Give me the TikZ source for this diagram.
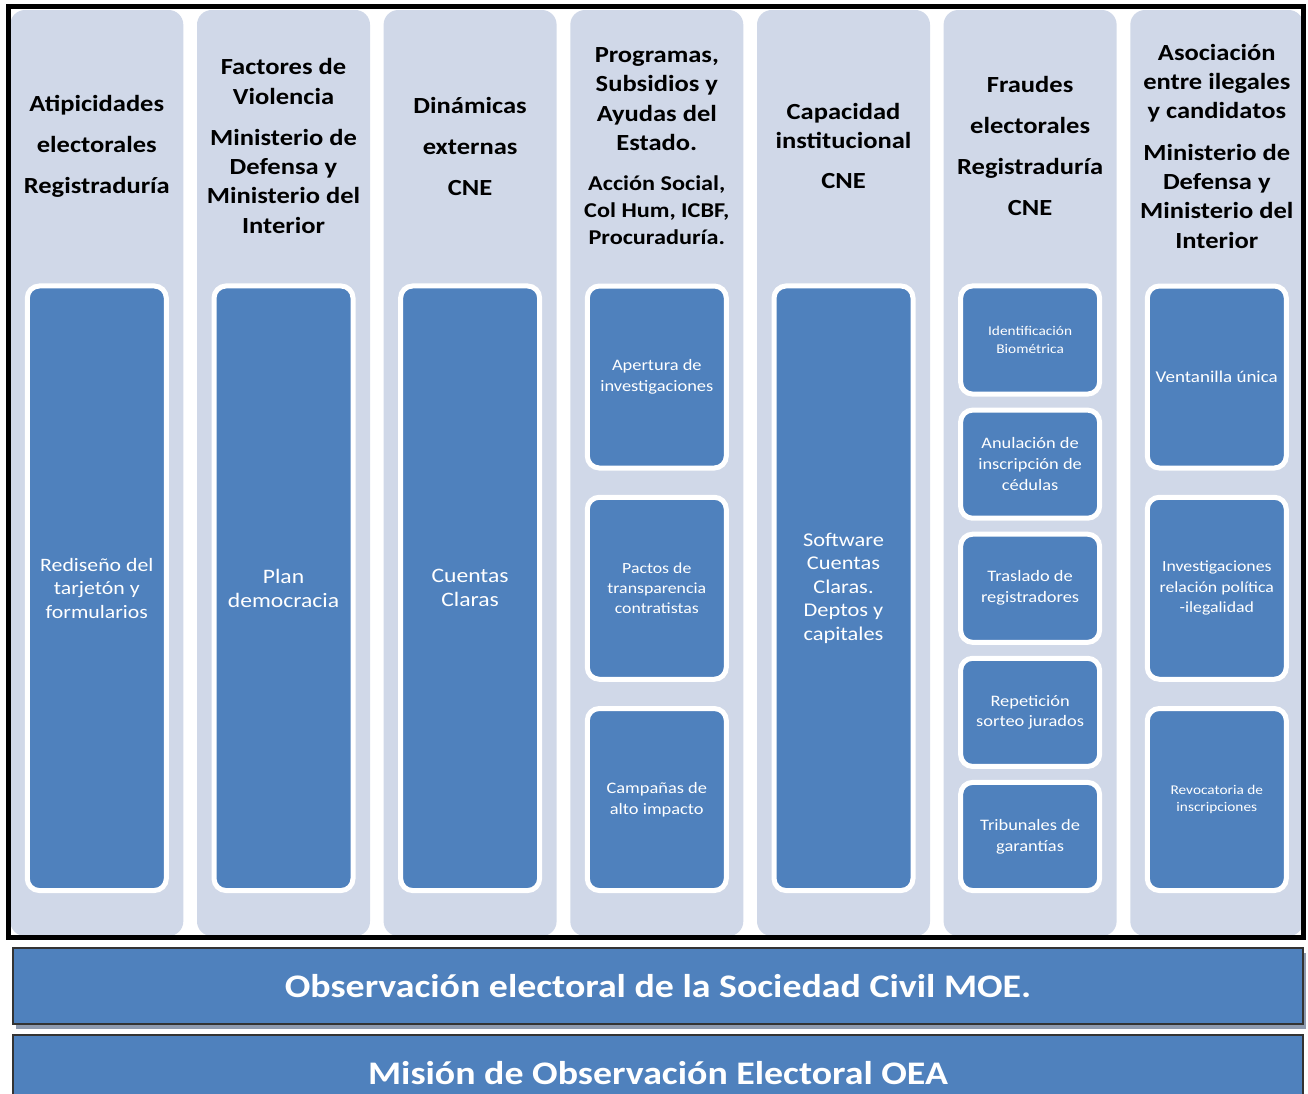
\documentclass[tikz,border=0pt]{standalone}
\usepackage{fontspec}
\setmainfont{Carlito}[FakeStretch=1.15]
\usetikzlibrary{shadows}
\definecolor{colbg}{HTML}{D0D8E8}
\definecolor{itemblue}{HTML}{4F81BD}
\definecolor{shadowgray}{HTML}{8E9AAE}
\newcommand{\setfs}[2]{\fontsize{#1}{#2}\selectfont}
\newcommand{\smallhd}{\setfs{15.8}{20}}
\tikzset{
  column/.style={fill=colbg, rounded corners=11pt},
  header/.style={align=center, font=\bfseries\setfs{17.3}{22}, text=black},
  item/.style={draw=white, line width=3.75pt, fill=itemblue, rounded corners=9pt,
    text=white, align=center, minimum width=104.25pt, inner sep=2pt},
  tall/.style={item, minimum height=453.4pt},
  mid/.style={item, minimum height=136.5pt},
  small/.style={item, minimum height=81.1pt},
  bar/.style={fill=itemblue, draw=black!80, line width=0.8pt, text=white,
    minimum width=967.5pt, minimum height=57pt, font=\bfseries\setfs{24.7}{30}}
}
\begin{document}
\begin{tikzpicture}[x=0.75pt, y=-0.75pt]
\useasboundingbox (0,0) rectangle (1308,1093);
\clip (0,0) rectangle (1308,1093);
%% columns
\fill[column] (10.3,10) rectangle (183.3,936);
\fill[column] (197,10) rectangle (370,936);
\fill[column] (383.6,10) rectangle (556.6,936);
\fill[column] (570.3,10) rectangle (743.3,936);
\fill[column] (757,10) rectangle (930,936);
\fill[column] (943.6,10) rectangle (1116.6,936);
\fill[column] (1130.3,10) rectangle (1303.3,936);
%% headers
\node[header] (atip) at (96.8,146) {Atipicidades\\[8.75pt]electorales\\[8.75pt]Registraduría};
\node[header] (viol) at (283.5,146) {Factores de\\Violencia\\[8.75pt]Ministerio de\\Defensa y\\Ministerio del\\Interior};
\node[header] (dinam) at (470.1,146) {Dinámicas\\[8.75pt]externas\\[8.75pt]CNE};
\node[header] (prog) at (656.8,146) {Programas,\\Subsidios y\\Ayudas del\\Estado.\\[8pt]\smallhd Acción Social,\\[-1.9pt]\smallhd Col Hum, ICBF,\\[-1.9pt]\smallhd Procuraduría.};
\node[header] (capac) at (843.5,146) {Capacidad\\institucional\\[8pt]CNE};
\node[header] (fraud) at (1030.1,146) {Fraudes\\[8.75pt]electorales\\[8.75pt]Registraduría\\[8.75pt]CNE};
\node[header] (asoc) at (1216.8,146) {Asociación\\entre ilegales\\y candidatos\\[9pt]Ministerio de\\Defensa y\\Ministerio del\\Interior};
%% items
\node[tall, font=\setfs{14.2}{17.6}] (redis) at (96.8,588.25) {Rediseño del\\tarjetón y\\formularios};
\node[tall, font=\setfs{15.4}{18}] (plan) at (283.5,588.25) {Plan\\democracia};
\node[tall, font=\setfs{15.4}{18}] (cuentas) at (470.1,588.25) {Cuentas\\Claras};
\node[mid, font=\setfs{12}{15.5}] (apert) at (656.8,377) {Apertura de\\investigaciones};
\node[mid, font=\setfs{11.6}{15.3}] (pactos) at (656.8,588.25) {Pactos de\\transparencia\\contratistas};
\node[mid, font=\setfs{12}{15.5}] (campan) at (656.8,799.5) {Campañas de\\alto impacto};
\node[tall, font=\setfs{14.6}{17.6}] (softw) at (843.5,588.25) {Software\\Cuentas\\Claras.\\Deptos y\\capitales};
\node[small, font=\setfs{10}{13.5}] (ident) at (1030.1,340) {Identificación\\Biométrica};
\node[small, font=\setfs{12}{15.7}] (anul) at (1030.1,464.15) {Anulación de\\inscripción de\\cédulas};
\node[small, font=\setfs{12}{15.7}] (trasl) at (1030.1,588.25) {Traslado de\\registradores};
\node[small, font=\setfs{12}{15.7}] (repet) at (1030.1,712.35) {Repetición\\sorteo jurados};
\node[small, font=\setfs{12}{15.7}] (tribun) at (1030.1,836.45) {Tribunales de\\garantías};
\node[mid, font=\setfs{12.4}{15.5}] (ventan) at (1216.8,377) {Ventanilla única};
\node[mid, font=\setfs{11.6}{15.3}] (invest) at (1216.8,588.25) {Investigaciones\\relación política\\-ilegalidad};
\node[mid, font=\setfs{10}{12.8}] (revoc) at (1216.8,799.5) {Revocatoria de\\inscripciones};
%% frame
\draw[line width=3.75pt] (8.5,6.5) rectangle (1303,937);
%% bottom bars
\node[bar, drop shadow={shadow xshift=2.25pt, shadow yshift=-3.75pt, fill=shadowgray, opacity=1}] (moe) at (658,986) {Observación electoral de la Sociedad Civil MOE.};
\node[bar] (oea) at (658,1073) {Misión de Observación Electoral OEA};
\end{tikzpicture}
\end{document}
